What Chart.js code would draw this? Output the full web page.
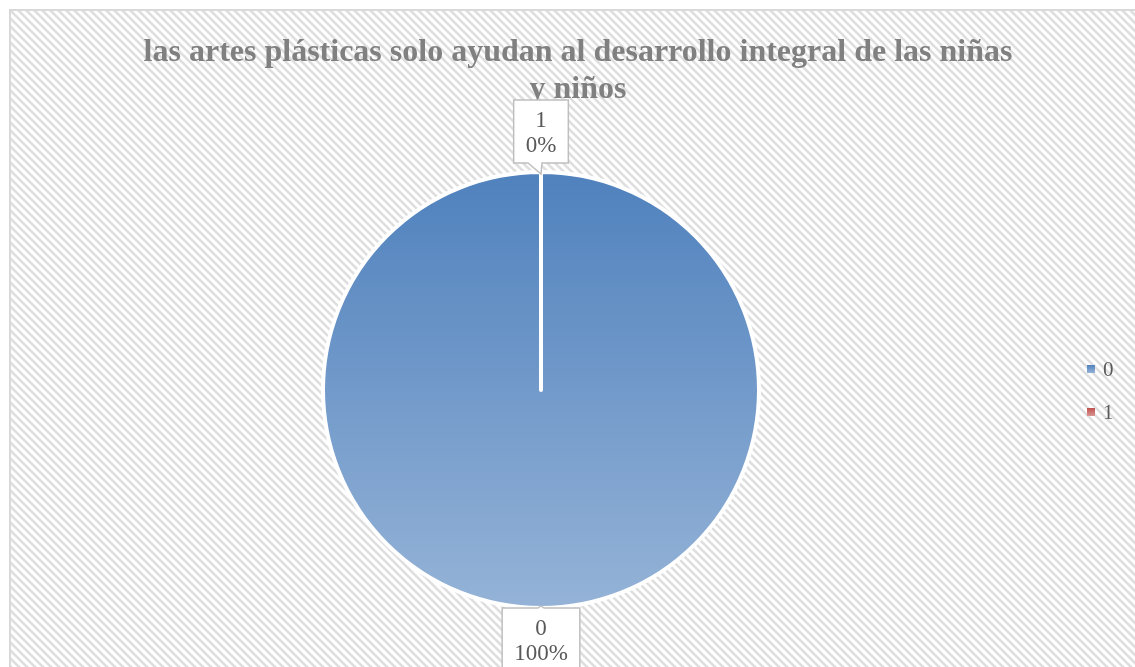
<!DOCTYPE html>
<html><head><meta charset="utf-8">
<script src="https://cdn.jsdelivr.net/npm/chart.js@4/dist/chart.umd.min.js"></script>
<style>html,body{margin:0;padding:0;background:#fff;overflow:hidden}#wrap{width:1135px;height:667px;position:relative}</style>
</head><body><div id="wrap"><canvas id="c" width="1135" height="667"></canvas></div>
<script>
const titleLines = ['las artes plásticas solo ayudan al desarrollo integral de las niñas', 'y niños'];
const categories = ['0', '1'];
const values = [100, 0];
const percentLabels = ['100%', '0%'];
const colorTop = ['#4f81bd', '#c0504d'];
const colorBottom = ['#95b3d7', '#d99694'];

const TEXT_GRAY = '#595959';
const SERIF = '"Liberation Serif", "Times New Roman", serif';

function makeHatch() {
  const s = 8;
  const c = document.createElement('canvas');
  c.width = s; c.height = s;
  const g = c.getContext('2d');
  g.fillStyle = '#ffffff';
  g.fillRect(0, 0, s, s);
  g.strokeStyle = '#dedede';
  g.lineWidth = 2.6;
  for (let k = -1; k <= 1; k++) {
    g.beginPath();
    g.moveTo(-2, -2 + k * s);
    g.lineTo(s + 2, s + 2 + k * s);
    g.stroke();
  }
  return c;
}

const backgroundPlugin = {
  id: 'bg',
  beforeDraw(chart) {
    const ctx = chart.ctx;
    ctx.save();
    ctx.fillStyle = '#ffffff';
    ctx.fillRect(0, 0, chart.width, chart.height);
    const pat = ctx.createPattern(makeHatch(), 'repeat');
    ctx.fillStyle = pat;
    ctx.fillRect(10, 10, chart.width - 10, chart.height - 10);
    ctx.strokeStyle = '#d9d9d9';
    ctx.lineWidth = 2;
    ctx.beginPath();
    ctx.moveTo(10, chart.height);
    ctx.lineTo(10, 10);
    ctx.lineTo(chart.width, 10);
    ctx.stroke();
    ctx.restore();
  }
};

const overlayPlugin = {
  id: 'overlay',
  afterDraw(chart) {
    const ctx = chart.ctx;
    ctx.save();
    // Title
    ctx.fillStyle = '#808080';
    ctx.font = 'bold 32px ' + SERIF;
    ctx.textAlign = 'center';
    ctx.textBaseline = 'alphabetic';
    const tx = 578;
    ctx.fillText(titleLines[0], tx, 61);
    ctx.fillText(titleLines[1], tx, 98);

    // Legend
    ctx.font = '21px ' + SERIF;
    ctx.textAlign = 'left';
    ctx.textBaseline = 'middle';
    categories.forEach((lab, i) => {
      const y = 369 + i * 43;
      const gr = ctx.createLinearGradient(0, y - 4, 0, y + 4);
      gr.addColorStop(0, colorTop[i]);
      gr.addColorStop(1, colorBottom[i]);
      ctx.fillStyle = gr;
      ctx.fillRect(1087, y - 4, 8, 8);
      ctx.fillStyle = TEXT_GRAY;
      ctx.fillText(lab, 1103, y + 1);
    });

    // Callout data labels
    const meta = chart.getDatasetMeta(0);
    ctx.font = '23px ' + SERIF;
    meta.data.forEach((arc, i) => {
      const p = arc.getProps(['x', 'y', 'startAngle', 'endAngle', 'outerRadius'], true);
      const mid = (p.startAngle + p.endAngle) / 2;
      const r = p.outerRadius - 2;
      const tipX = p.x + Math.cos(mid) * r;
      const tipY = p.y + Math.sin(mid) * r;
      const l1 = categories[i], l2 = percentLabels[i];
      const w = Math.max(ctx.measureText(l1).width, ctx.measureText(l2).width) + 24;
      const h = 63;
      const below = Math.sin(mid) > 0;
      const bx = tipX - w / 2;
      const by = below ? tipY + 2 : tipY - 11 - h;
      ctx.fillStyle = '#ffffff';
      ctx.strokeStyle = '#bfbfbf';
      ctx.lineWidth = 1.5;
      ctx.beginPath();
      if (below) {
        ctx.moveTo(bx, by);
        ctx.lineTo(tipX - 3, by);
        ctx.lineTo(tipX, tipY);
        ctx.lineTo(tipX + 3, by);
        ctx.lineTo(bx + w, by);
        ctx.lineTo(bx + w, by + h);
        ctx.lineTo(bx, by + h);
      } else {
        ctx.moveTo(bx, by);
        ctx.lineTo(bx + w, by);
        ctx.lineTo(bx + w, by + h);
        ctx.lineTo(tipX + 1, by + h);
        ctx.lineTo(tipX, tipY);
        ctx.lineTo(tipX - 13, by + h);
        ctx.lineTo(bx, by + h);
      }
      ctx.closePath();
      ctx.fill();
      ctx.stroke();
      ctx.fillStyle = TEXT_GRAY;
      ctx.textAlign = 'center';
      ctx.textBaseline = 'middle';
      ctx.fillText(l1, tipX, by + 21);
      ctx.fillText(l2, tipX, by + 46);
    });
    ctx.restore();
  }
};

function sliceFill(ctx) {
  const chart = ctx.chart;
  const i = ctx.dataIndex;
  const area = chart.chartArea;
  if (!area) return colorTop[i];
  const g = chart.ctx.createLinearGradient(0, area.top, 0, area.bottom);
  g.addColorStop(0, colorTop[i]);
  g.addColorStop(1, colorBottom[i]);
  return g;
}

new Chart(document.getElementById('c'), {
  type: 'pie',
  data: {
    labels: categories,
    datasets: [{
      data: values,
      backgroundColor: sliceFill,
      borderColor: '#ffffff',
      borderWidth: 4,
      borderJoinStyle: 'round'
    }]
  },
  options: {
    responsive: false,
    devicePixelRatio: 1,
    animation: false,
    events: [],
    layout: { padding: { top: 170, bottom: 57, left: 10, right: 63 } },
    plugins: {
      legend: { display: false },
      title: { display: false },
      tooltip: { enabled: false }
    }
  },
  plugins: [backgroundPlugin, overlayPlugin]
});
</script>
</body></html>
